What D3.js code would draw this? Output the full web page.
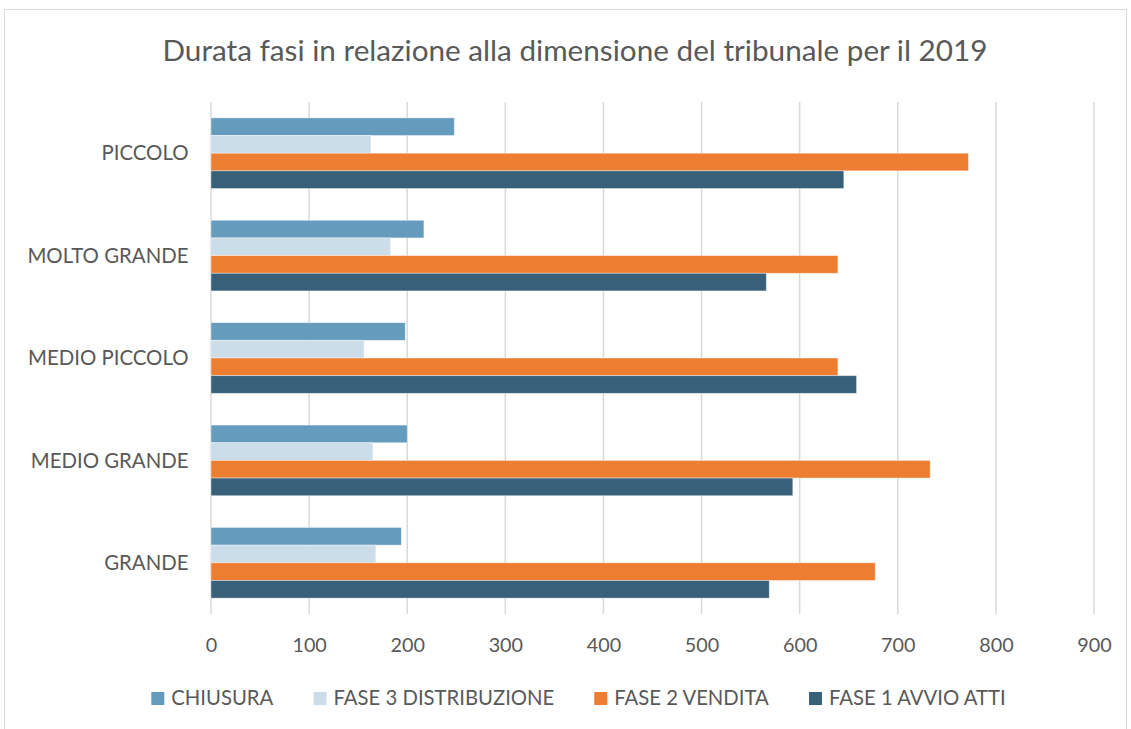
<!DOCTYPE html>
<html>
<head>
<meta charset="utf-8">
<script src="https://cdn.jsdelivr.net/npm/d3@7"></script>
<style>
  html, body { margin: 0; padding: 0; background: #fff; }
  svg { display: block; }
  text { font-family: Lato, "Open Sans", sans-serif; fill: #595959; }
</style>
</head>
<body>
<svg id="chart" width="1131" height="729"></svg>
<script>
// ---- Data ----
const title = "Durata fasi in relazione alla dimensione del tribunale per il 2019";
// categories listed top to bottom as drawn
const categories = ["PICCOLO", "MOLTO GRANDE", "MEDIO PICCOLO", "MEDIO GRANDE", "GRANDE"];
const seriesNames = ["CHIUSURA", "FASE 3 DISTRIBUZIONE", "FASE 2 VENDITA", "FASE 1 AVVIO ATTI"];
const chiusura      = [248, 217, 198, 200, 194];
const fase3         = [163, 183, 156, 165, 168];
const fase2         = [772, 639, 639, 733, 677];
const fase1         = [645, 566, 658, 593, 569];
const tickValues    = [0, 100, 200, 300, 400, 500, 600, 700, 800, 900];
const seriesColors  = ["#659BBD", "#CCDDEA", "#ED7D31", "#386079"];

const seriesValues = [chiusura, fase3, fase2, fase1];

// ---- Layout ----
const svg = d3.select("#chart");
const plot = { left: 211, right: 1094, top: 102, bottom: 614 };

// chart border
svg.append("rect")
  .attr("x", 4.5).attr("y", 9.5)
  .attr("width", 1122).attr("height", 740)
  .attr("fill", "#fff").attr("stroke", "#D9D9D9").attr("stroke-width", 1);

const x = d3.scaleLinear().domain([0, 900]).range([plot.left, plot.right]);
const y = d3.scaleBand().domain(categories).range([plot.top, plot.bottom])
  .paddingInner(0.31).paddingOuter(0.155);
const ySub = d3.scaleBand().domain(seriesNames).range([0, y.bandwidth()]);

// title
svg.append("text")
  .attr("x", 575).attr("y", 61)
  .attr("text-anchor", "middle")
  .style("font-size", "29.7px")
  .text(title);

// gridlines
svg.append("g")
  .selectAll("line")
  .data(tickValues)
  .join("line")
  .attr("x1", d => x(d)).attr("x2", d => x(d))
  .attr("y1", plot.top).attr("y2", plot.bottom)
  .attr("stroke", "#D9D9D9").attr("stroke-width", 1.5);

// x axis tick labels
const xAxis = d3.axisBottom(x).tickValues(tickValues).tickSize(0).tickPadding(0);
const gx = svg.append("g")
  .attr("transform", `translate(0,${plot.bottom})`)
  .call(xAxis);
gx.select(".domain").remove();
gx.selectAll("text")
  .attr("y", 38).attr("dy", null)
  .style("font-size", "19.8px")
  .style("fill", "#595959")
  .style("font-family", "Lato, 'Open Sans', sans-serif");

// y axis labels
const yAxis = d3.axisLeft(y).tickSize(0).tickPadding(0);
const gy = svg.append("g")
  .attr("transform", `translate(188.5,0)`)
  .call(yAxis);
gy.select(".domain").remove();
gy.selectAll("text")
  .attr("dy", "0.35em")
  .style("font-size", "20.4px")
  .style("fill", "#595959")
  .style("font-family", "Lato, 'Open Sans', sans-serif");

// bars
const groups = svg.append("g")
  .selectAll("g")
  .data(categories)
  .join("g")
  .attr("transform", d => `translate(0,${y(d)})`);

groups.selectAll("rect")
  .data((c, ci) => seriesNames.map((s, si) => ({ s, si, v: seriesValues[si][ci] })))
  .join("rect")
  .attr("x", x(0))
  .attr("y", d => ySub(d.s))
  .attr("width", d => x(d.v) - x(0))
  .attr("height", ySub.bandwidth())
  .attr("fill", d => seriesColors[d.si])
  .attr("stroke", "#ffffff").attr("stroke-opacity", 0.5).attr("stroke-width", 0.8);

// legend
const legend = svg.append("g").attr("class", "legend");
const items = legend.selectAll("g")
  .data(seriesNames)
  .join("g");
items.append("rect")
  .attr("width", 13).attr("height", 13)
  .attr("y", -13)
  .attr("fill", (d, i) => seriesColors[i]);
items.append("text")
  .attr("x", 20).attr("y", 0)
  .style("font-size", "20.3px")
  .text(d => d);
// position legend items by measured widths, centered
const gap = 40;
const widths = [];
items.each(function() { widths.push(this.getBBox().width); });
const total = d3.sum(widths) + gap * (widths.length - 1);
let cx = 578.5 - total / 2;
items.attr("transform", (d, i) => {
  const t = `translate(${cx},705)`;
  cx += widths[i] + gap;
  return t;
});
</script>
</body>
</html>
